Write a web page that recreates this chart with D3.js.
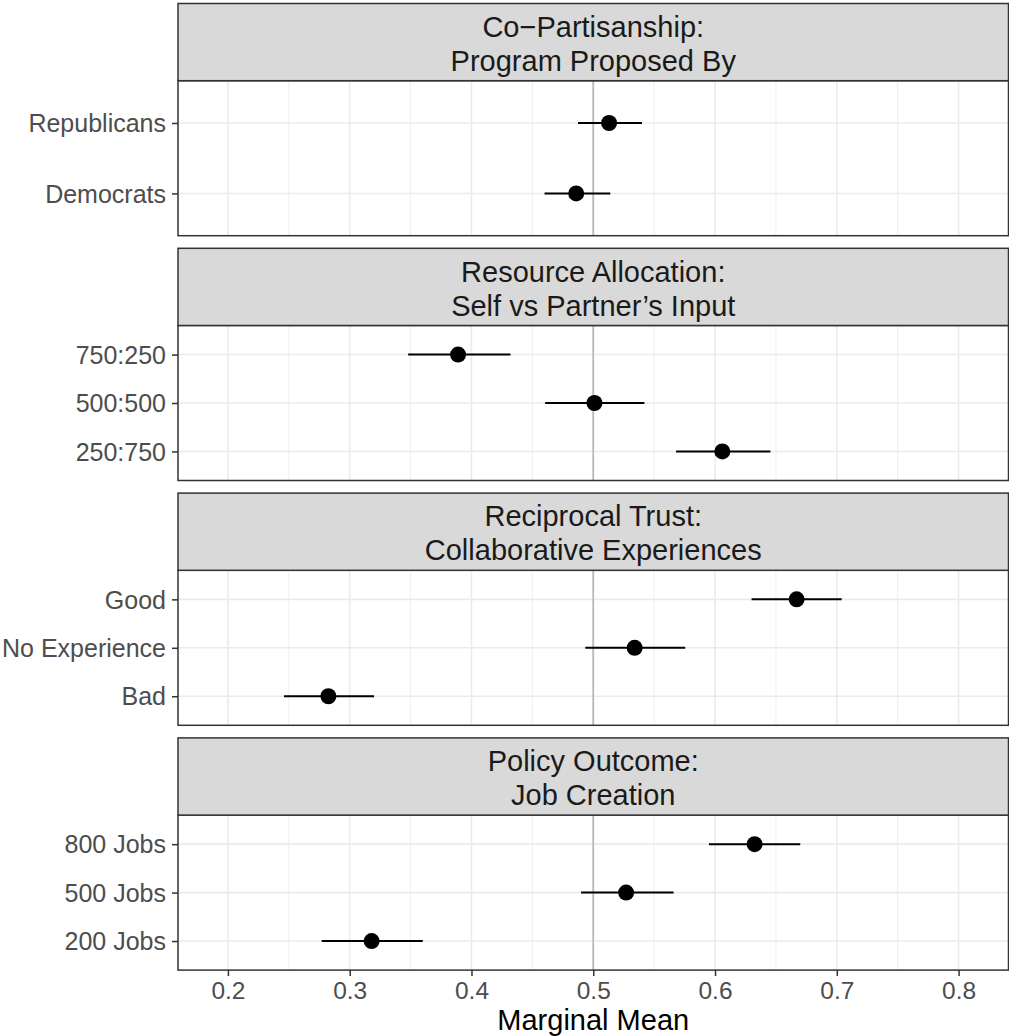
<!DOCTYPE html>
<html>
<head>
<meta charset="utf-8">
<script src="https://cdn.jsdelivr.net/npm/d3@7"></script>
<style>
  html, body { margin: 0; padding: 0; background: #ffffff; }
  svg { display: block; }
  text { font-family: "Liberation Sans", Arial, Helvetica, sans-serif; }
</style>
</head>
<body>
<svg id="chart" width="1009" height="1036"></svg>
<script>
// Facet titles (two lines each)
const facetTitles = [
  ["Co\u2212Partisanship:", "Program Proposed By"],
  ["Resource Allocation:", "Self vs Partner\u2019s Input"],
  ["Reciprocal Trust:", "Collaborative Experiences"],
  ["Policy Outcome:", "Job Creation"]
];

// Attribute levels in each facet, listed top to bottom
const facetLevels = [
  ["Republicans", "Democrats"],
  ["750:250", "500:500", "250:750"],
  ["Good", "No Experience", "Bad"],
  ["800 Jobs", "500 Jobs", "200 Jobs"]
];

// Marginal means and 95% interval bounds, same order as the levels
const facetMeans = [
  [0.513, 0.486],
  [0.389, 0.501, 0.606],
  [0.667, 0.534, 0.2825],
  [0.6325, 0.527, 0.318]
];
const facetLower = [
  [0.4875, 0.460],
  [0.348, 0.4605, 0.568],
  [0.630, 0.4935, 0.246],
  [0.595, 0.490, 0.277]
];
const facetUpper = [
  [0.540, 0.514],
  [0.432, 0.542, 0.6455],
  [0.704, 0.5755, 0.320],
  [0.670, 0.566, 0.360]
];

const xTicks = [0.2, 0.3, 0.4, 0.5, 0.6, 0.7, 0.8];
const xMinorTicks = [0.25, 0.35, 0.45, 0.55, 0.65, 0.75];
const xLimits = [0.19, 0.81];
const referenceValue = 0.5;
const xTitle = "Marginal Mean";

// ---- layout ----
const svg = d3.select("#chart");
const panelLeft = 178, panelRight = 1008.5;
const firstTop = 3.5, stripH = 77.2, panelH = 155, facetGap = 12.6;
const pitch = stripH + panelH + facetGap;

const span = xLimits[1] - xLimits[0];
const x = d3.scaleLinear()
  .domain([xLimits[0] - 0.05 * span, xLimits[1] + 0.05 * span])
  .range([panelLeft, panelRight]);

const borderCol = "#333333";

facetTitles.forEach((title, i) => {
  const stripTop = firstTop + i * pitch;
  const pTop = stripTop + stripH;
  const pBot = pTop + panelH;
  const g = svg.append("g");

  const y = d3.scalePoint()
    .domain(facetLevels[i])
    .range([pTop, pBot])
    .padding(0.6);

  // panel background
  g.append("rect")
    .attr("x", panelLeft).attr("y", pTop)
    .attr("width", panelRight - panelLeft).attr("height", panelH)
    .attr("fill", "#ffffff");

  // minor vertical grid
  g.selectAll(".minor").data(xMinorTicks).join("line")
    .attr("x1", d => x(d)).attr("x2", d => x(d))
    .attr("y1", pTop).attr("y2", pBot)
    .attr("stroke", "#ebebeb").attr("stroke-width", 0.8);

  // major vertical grid
  g.selectAll(".major").data(xTicks).join("line")
    .attr("x1", d => x(d)).attr("x2", d => x(d))
    .attr("y1", pTop).attr("y2", pBot)
    .attr("stroke", "#ebebeb").attr("stroke-width", 1.6);

  // horizontal grid at each level
  g.selectAll(".hgrid").data(facetLevels[i]).join("line")
    .attr("x1", panelLeft).attr("x2", panelRight)
    .attr("y1", d => y(d)).attr("y2", d => y(d))
    .attr("stroke", "#ebebeb").attr("stroke-width", 1.6);

  // reference line at 0.5
  g.append("line")
    .attr("x1", x(referenceValue)).attr("x2", x(referenceValue))
    .attr("y1", pTop).attr("y2", pBot)
    .attr("stroke", "#bababa").attr("stroke-width", 1.8);

  const rows = facetLevels[i].map((lvl, j) => ({
    level: lvl,
    mean: facetMeans[i][j],
    lo: facetLower[i][j],
    hi: facetUpper[i][j]
  }));

  // interval ranges
  g.selectAll(".ci").data(rows).join("line")
    .attr("x1", d => x(d.lo)).attr("x2", d => x(d.hi))
    .attr("y1", d => y(d.level)).attr("y2", d => y(d.level))
    .attr("stroke", "#000000").attr("stroke-width", 2);

  // point estimates
  g.selectAll(".pt").data(rows).join("circle")
    .attr("cx", d => x(d.mean)).attr("cy", d => y(d.level))
    .attr("r", 8).attr("fill", "#000000");

  // panel border
  g.append("rect")
    .attr("x", panelLeft).attr("y", pTop)
    .attr("width", panelRight - panelLeft).attr("height", panelH)
    .attr("fill", "none").attr("stroke", borderCol).attr("stroke-width", 1.5);

  // strip
  g.append("rect")
    .attr("x", panelLeft).attr("y", stripTop)
    .attr("width", panelRight - panelLeft).attr("height", stripH)
    .attr("fill", "#d9d9d9").attr("stroke", borderCol).attr("stroke-width", 1.5);

  const cx = (panelLeft + panelRight) / 2;
  title.forEach((line, k) => {
    g.append("text")
      .attr("x", cx).attr("y", stripTop + 33.2 + k * 34)
      .attr("text-anchor", "middle")
      .attr("font-size", 29).attr("fill", "#1a1a1a")
      .text(line);
  });

  // y axis
  const yAxis = d3.axisLeft(y).tickSize(6).tickPadding(6);
  const ya = g.append("g").attr("transform", `translate(${panelLeft},0)`).call(yAxis);
  ya.select(".domain").remove();
  ya.selectAll(".tick line").attr("stroke", borderCol).attr("stroke-width", 1.5);
  ya.selectAll(".tick text")
    .attr("font-size", 25).attr("fill", "#4d4d4d")
    .attr("font-family", "Liberation Sans, Arial, sans-serif")
    .attr("dy", "0.35em");

  // x axis on the bottom facet only
  if (i === facetTitles.length - 1) {
    const xAxis = d3.axisBottom(x).tickValues(xTicks).tickSize(6).tickPadding(6)
      .tickFormat(d3.format(".1f"));
    const xa = g.append("g").attr("transform", `translate(0,${pBot})`).call(xAxis);
    xa.select(".domain").remove();
    xa.selectAll(".tick line").attr("stroke", borderCol).attr("stroke-width", 1.5);
    xa.selectAll(".tick text")
      .attr("font-size", 24.5).attr("fill", "#4d4d4d")
      .attr("font-family", "Liberation Sans, Arial, sans-serif")
      .attr("dy", null).attr("y", 29);

    svg.append("text")
      .attr("x", cx).attr("y", pBot + 59.5)
      .attr("text-anchor", "middle")
      .attr("font-size", 29).attr("fill", "#000000")
      .text(xTitle);
  }
});
</script>
</body>
</html>
